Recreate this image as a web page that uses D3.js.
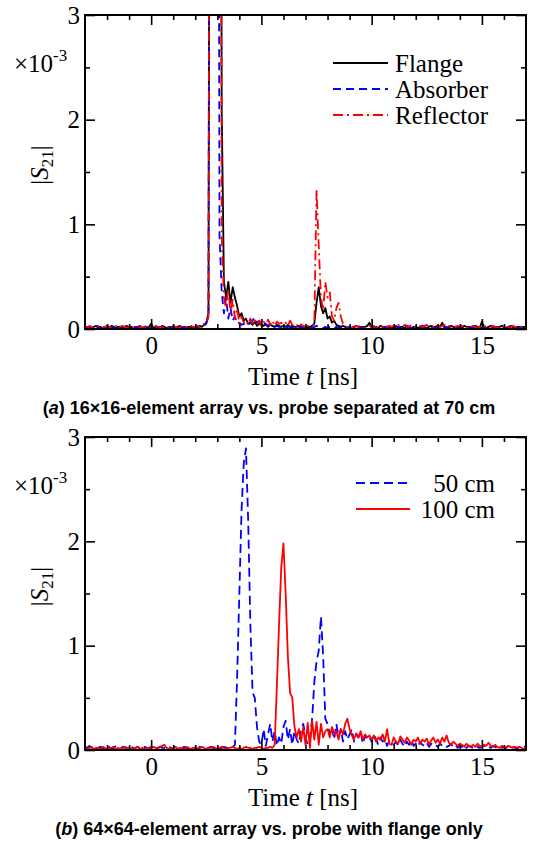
<!DOCTYPE html>
<html>
<head>
<meta charset="utf-8">
<script src="https://cdn.jsdelivr.net/npm/d3@7"></script>
<style>
  body { margin: 0; background: #fff; }
</style>
</head>
<body>
<script>
// sampled every 0.1 ns from -3 ns to 17 ns, |S21| in units of 1e-3
const flange = [
  0.02,0.01,0.02,0.01,0.02,0.03,0.01,0.02,0.01,0.02,
  0.02,0.01,0.03,0.02,0.01,0.02,0.02,0.01,0.02,0.03,
  0.01,0.02,0.01,0.02,0.02,0.03,0.01,0.02,0.01,0.02,
  0.05,0.01,0.02,0.02,0.01,0.03,0.02,0.01,0.02,0.01,
  0.02,0.01,0.02,0.03,0.01,0.02,0.01,0.02,0.02,0.01,
  0.02,0.02,0.03,0.02,0.04,0.06,0.15,12,12,12,
  12,12,2.1,0.45,0.3,0.45,0.25,0.4,0.3,0.22,
  0.12,0.15,0.08,0.1,0.05,0.06,0.04,0.07,0.03,0.05,
  0.04,0.03,0.05,0.02,0.04,0.03,0.02,0.04,0.03,0.02,
  0.03,0.02,0.04,0.02,0.03,0.02,0.02,0.03,0.02,0.01,
  0.02,0.01,0.02,0.03,0.05,0.25,0.4,0.22,0.15,0.2,
  0.1,0.12,0.06,0.08,0.04,0.03,0.02,0.03,0.02,0.01,
  0.02,0.01,0.02,0.03,0.02,0.01,0.02,0.02,0.03,0.06,
  0.02,0.01,0.02,0.01,0.03,0.02,0.01,0.02,0.02,0.01,
  0.02,0.03,0.01,0.02,0.02,0.01,0.03,0.02,0.01,0.02,
  0.02,0.01,0.02,0.03,0.02,0.01,0.02,0.03,0.02,0.02,
  0.03,0.02,0.06,0.02,0.01,0.02,0.03,0.02,0.01,0.02,
  0.02,0.01,0.03,0.02,0.02,0.01,0.02,0.03,0.02,0.01,
  0.07,0.02,0.01,0.02,0.03,0.02,0.01,0.02,0.02,0.03,
  0.02,0.01,0.02,0.03,0.02,0.01,0.02,0.02,0.01,0.02,
  0.02
];
const absorber = [
  0.01,0.02,0.01,0.01,0.02,0.01,0.02,0.01,0.01,0.02,
  0.01,0.02,0.02,0.01,0.01,0.02,0.01,0.02,0.01,0.01,
  0.02,0.01,0.01,0.02,0.01,0.02,0.01,0.01,0.02,0.01,
  0.02,0.01,0.02,0.01,0.01,0.02,0.01,0.02,0.01,0.02,
  0.01,0.02,0.01,0.01,0.02,0.01,0.02,0.01,0.02,0.01,
  0.01,0.02,0.02,0.03,0.03,0.05,0.12,12,12,12,
  12,0.9,0.35,0.15,0.3,0.1,0.2,0.08,0.12,0.05,
  0.06,0.04,0.05,0.03,0.04,0.06,0.08,0.11,0.06,0.08,
  0.05,0.07,0.04,0.03,0.05,0.03,0.02,0.03,0.02,0.02,
  0.02,0.01,0.02,0.02,0.01,0.02,0.01,0.02,0.01,0.01,
  0.01,0.02,0.01,0.01,0.02,0.03,0.02,0.02,0.01,0.02,
  0.01,0.02,0.01,0.01,0.02,0.01,0.01,0.02,0.01,0.01,
  0.02,0.01,0.01,0.02,0.01,0.02,0.01,0.01,0.02,0.01,
  0.01,0.02,0.01,0.01,0.02,0.01,0.02,0.01,0.01,0.02,
  0.01,0.01,0.02,0.01,0.02,0.01,0.01,0.02,0.01,0.01,
  0.02,0.01,0.01,0.02,0.01,0.01,0.02,0.01,0.02,0.01,
  0.01,0.02,0.01,0.01,0.02,0.01,0.01,0.02,0.01,0.01,
  0.02,0.01,0.02,0.01,0.01,0.02,0.01,0.01,0.02,0.01,
  0.01,0.02,0.01,0.01,0.02,0.01,0.02,0.01,0.01,0.02,
  0.01,0.01,0.02,0.01,0.01,0.02,0.01,0.01,0.02,0.01,
  0.01
];
const reflector = [
  0.02,0.01,0.03,0.02,0.01,0.02,0.03,0.02,0.01,0.02,
  0.03,0.02,0.01,0.02,0.03,0.01,0.02,0.03,0.02,0.01,
  0.02,0.03,0.01,0.02,0.02,0.03,0.01,0.02,0.03,0.02,
  0.02,0.01,0.03,0.02,0.02,0.01,0.03,0.02,0.01,0.02,
  0.03,0.02,0.01,0.02,0.03,0.02,0.02,0.01,0.03,0.02,
  0.02,0.03,0.02,0.03,0.05,0.06,0.12,12,12,12,
  12,12,0.9,0.3,0.2,0.38,0.15,0.28,0.1,0.2,
  0.05,0.12,0.06,0.08,0.04,0.1,0.05,0.09,0.04,0.08,
  0.03,0.07,0.05,0.09,0.04,0.08,0.03,0.07,0.05,0.06,
  0.04,0.06,0.03,0.08,0.04,0.05,0.03,0.06,0.04,0.03,
  0.02,0.03,0.02,0.03,0.05,1.33,0.8,0.3,0.18,0.45,
  0.3,0.35,0.12,0.08,0.2,0.25,0.12,0.05,0.03,0.02,
  0.03,0.02,0.01,0.03,0.02,0.03,0.02,0.01,0.02,0.03,
  0.02,0.03,0.01,0.02,0.03,0.02,0.04,0.02,0.03,0.02,
  0.03,0.02,0.04,0.03,0.02,0.04,0.03,0.02,0.04,0.03,
  0.02,0.04,0.03,0.02,0.03,0.04,0.02,0.03,0.02,0.04,
  0.03,0.02,0.03,0.04,0.02,0.03,0.02,0.03,0.02,0.03,
  0.02,0.03,0.02,0.01,0.03,0.02,0.03,0.02,0.01,0.02,
  0.03,0.02,0.03,0.02,0.02,0.03,0.02,0.01,0.03,0.02,
  0.02,0.03,0.02,0.02,0.03,0.02,0.02,0.03,0.02,0.04,
  0.03
];
const cm50 = [
  0.03,0.02,0.04,0.02,0.03,0.01,0.02,0.03,0.02,0.01,
  0.02,0.03,0.01,0.02,0.04,0.02,0.01,0.03,0.02,0.02,
  0.01,0.03,0.02,0.02,0.03,0.01,0.02,0.03,0.02,0.02,
  0.03,0.02,0.01,0.02,0.03,0.02,0.02,0.01,0.03,0.02,
  0.02,0.03,0.01,0.02,0.02,0.03,0.02,0.01,0.02,0.03,
  0.02,0.01,0.03,0.02,0.02,0.01,0.02,0.03,0.02,0.01,
  0.02,0.01,0.02,0.03,0.02,0.03,0.02,0.03,0.05,0.7,
  1.5,2.3,2.75,2.89,2.2,1.2,0.55,0.5,0.22,0.08,
  0.05,0.2,0.04,0.15,0.25,0.08,0.18,0.04,0.12,0.06,
  0.22,0.28,0.1,0.2,0.05,0.18,0.1,0.06,0.2,0.25,
  0.12,0.05,0.1,0.3,0.65,0.85,0.95,1.28,0.9,0.3,
  0.25,0.15,0.22,0.1,0.25,0.12,0.2,0.08,0.18,0.1,
  0.15,0.2,0.08,0.15,0.12,0.18,0.06,0.14,0.1,0.12,
  0.08,0.15,0.1,0.05,0.12,0.08,0.1,0.04,0.09,0.06,
  0.05,0.08,0.04,0.1,0.06,0.03,0.08,0.05,0.1,0.04,
  0.06,0.03,0.08,0.05,0.04,0.07,0.03,0.06,0.04,0.05,
  0.03,0.06,0.04,0.05,0.03,0.04,0.06,0.03,0.05,0.02,
  0.04,0.03,0.05,0.02,0.04,0.03,0.02,0.04,0.03,0.02,
  0.03,0.04,0.02,0.03,0.02,0.04,0.03,0.02,0.03,0.02,
  0.03,0.02,0.04,0.02,0.03,0.02,0.01,0.03,0.02,0.04,
  0.02
];
const cm100 = [
  0.02,0.01,0.02,0.03,0.01,0.02,0.02,0.01,0.03,0.02,
  0.01,0.02,0.02,0.03,0.01,0.02,0.01,0.02,0.03,0.02,
  0.02,0.01,0.02,0.02,0.03,0.01,0.02,0.01,0.02,0.02,
  0.02,0.03,0.02,0.01,0.03,0.04,0.05,0.02,0.01,0.02,
  0.02,0.03,0.01,0.02,0.02,0.01,0.03,0.02,0.01,0.02,
  0.02,0.01,0.02,0.03,0.02,0.01,0.02,0.02,0.03,0.02,
  0.01,0.02,0.03,0.02,0.01,0.02,0.02,0.03,0.02,0.01,
  0.02,0.01,0.02,0.03,0.02,0.02,0.01,0.02,0.02,0.03,
  0.02,0.01,0.02,0.02,0.03,0.02,0.05,0.6,1.2,1.75,
  1.98,1.5,0.9,0.55,0.5,0.22,0.12,0.2,0.08,0.22,
  0.05,0.26,0.02,0.28,0.1,0.27,0.05,0.25,0.12,0.18,
  0.2,0.12,0.22,0.15,0.18,0.1,0.2,0.15,0.25,0.3,
  0.2,0.14,0.1,0.16,0.12,0.18,0.1,0.15,0.12,0.14,
  0.1,0.14,0.08,0.12,0.1,0.15,0.08,0.2,0.06,0.05,
  0.12,0.08,0.06,0.13,0.1,0.07,0.12,0.09,0.05,0.1,
  0.08,0.12,0.06,0.1,0.08,0.11,0.05,0.09,0.12,0.07,
  0.1,0.06,0.12,0.08,0.14,0.07,0.05,0.08,0.06,0.04,
  0.06,0.05,0.03,0.06,0.04,0.03,0.05,0.03,0.06,0.04,
  0.03,0.05,0.04,0.07,0.04,0.03,0.05,0.03,0.02,0.04,
  0.03,0.02,0.04,0.03,0.02,0.03,0.02,0.03,0.02,0.01,
  0.02
];
const time = flange.map((_, i) => -3 + i * 0.1);

const xMajor = [0, 5, 10, 15];
const xMinor = [-2, -1, 1, 2, 3, 4, 6, 7, 8, 9, 11, 12, 13, 14, 16];
const yMajor = [0, 1, 2, 3];
const yMinor = [0.5, 1.5, 2.5];
const namesA = ['Flange', 'Absorber', 'Reflector'];
const namesB = ['50 cm', '100 cm'];
const captionA = '16×16-element array vs. probe separated at 70 cm';
const captionB = '64×64-element array vs. probe with flange only';

const SERIF = '"Liberation Serif", "Times New Roman", serif';
const SANS = '"Liberation Sans", Arial, sans-serif';

const W = 533, H = 842;
const svg = d3.select('body').append('svg').attr('width', W).attr('height', H);

const panels = [
  { id: 'a', top: 15, bottom: 329, caption: captionA, legendAnchor: 'start',
    series: [
      { name: namesA[0], values: flange, color: '#000', dash: null },
      { name: namesA[1], values: absorber, color: '#0000ff', dash: '8,5' },
      { name: namesA[2], values: reflector, color: '#ff0000', dash: '10,4,2,4' }
    ],
    legend: { x1: 333, x2: 388, tx: 395, y: 63, step: 26 } },
  { id: 'b', top: 437, bottom: 750, caption: captionB, legendAnchor: 'end',
    series: [
      { name: namesB[0], values: cm50, color: '#0000ff', dash: '9,5' },
      { name: namesB[1], values: cm100, color: '#ff0000', dash: null }
    ],
    legend: { x1: 356, x2: 410, tx: 495, y: 483, step: 26 } }
];

panels.forEach(p => {
  const x = d3.scaleLinear().domain([-3, 17]).range([85, 526]);
  const y = d3.scaleLinear().domain([0, 3]).range([p.bottom, p.top]);
  const g = svg.append('g');

  g.append('clipPath').attr('id', 'clip-' + p.id)
    .append('rect')
    .attr('x', x(-3)).attr('y', y(3))
    .attr('width', x(17) - x(-3)).attr('height', y(0) - y(3));

  const line = d3.line().x((d, i) => x(time[i])).y(d => y(d));
  const plot = g.append('g').attr('clip-path', `url(#clip-${p.id})`);
  p.series.forEach(s => {
    plot.append('path')
      .datum(s.values)
      .attr('d', line)
      .attr('fill', 'none')
      .attr('stroke', s.color)
      .attr('stroke-width', 1.8)
      .attr('stroke-dasharray', s.dash)
      .attr('stroke-linejoin', 'round');
  });

  // ticks point inward on all four sides
  const axes = [
    [d3.axisBottom(x), `translate(0,${p.bottom})`, xMajor, xMinor, true],
    [d3.axisTop(x), `translate(0,${p.top})`, xMajor, xMinor, false],
    [d3.axisLeft(y), `translate(${x(-3)},0)`, yMajor, yMinor, true],
    [d3.axisRight(y), `translate(${x(17)},0)`, yMajor, yMinor, false]
  ];
  axes.forEach(([ax, tr, major, minor, labels]) => {
    const isX = major === xMajor;
    const a = g.append('g').attr('transform', tr)
      .call(ax.tickValues(major).tickSize(-10)
        .tickPadding(isX ? 7 : 5)
        .tickFormat(labels ? d3.format('d') : ''));
    g.append('g').attr('transform', tr)
      .call(ax.tickValues(minor).tickSize(-5).tickFormat(''))
      .select('.domain').remove();
    a.select('.domain').remove();
  });
  g.selectAll('.tick line').attr('stroke', '#000').attr('stroke-width', 1.6);
  g.selectAll('.tick text').style('font-size', '25px').style('font-family', SERIF);

  g.append('rect')
    .attr('x', x(-3)).attr('y', y(3))
    .attr('width', x(17) - x(-3)).attr('height', y(0) - y(3))
    .attr('fill', 'none').attr('stroke', '#000').attr('stroke-width', 2);

  // y label |S21| and the scale factor
  const yl = g.append('text')
    .attr('transform', `translate(48,${(p.top + p.bottom) / 2 - 7}) rotate(-90)`)
    .attr('text-anchor', 'middle')
    .style('font-family', SERIF).style('font-size', '25px');
  yl.append('tspan').text('|');
  yl.append('tspan').attr('font-style', 'italic').text('S');
  yl.append('tspan').style('font-size', '17px').attr('dy', 5).text('21');
  yl.append('tspan').attr('dy', -5).text('|');

  const sf = g.append('text').attr('x', 14).attr('y', p.top + 57)
    .style('font-family', SERIF).style('font-size', '25px');
  sf.append('tspan').text('×10');
  sf.append('tspan').style('font-size', '17px').attr('dy', -11).text('-3');

  const xl = g.append('text')
    .attr('x', 303).attr('y', p.bottom + 56)
    .attr('text-anchor', 'middle')
    .style('font-family', SERIF).style('font-size', '25px');
  xl.append('tspan').text('Time ');
  xl.append('tspan').attr('font-style', 'italic').text('t');
  xl.append('tspan').text(' [ns]');

  const cap = g.append('text')
    .attr('x', 269).attr('y', p.bottom + 85)
    .attr('text-anchor', 'middle')
    .style('font-family', SANS).style('font-weight', 'bold').style('font-size', '18px');
  cap.append('tspan').text('(');
  cap.append('tspan').attr('font-style', 'italic').text(p.id);
  cap.append('tspan').text(') ' + p.caption);

  // legend
  const L = p.legend;
  p.series.forEach((s, i) => {
    const ly = L.y + i * L.step;
    g.append('line')
      .attr('x1', L.x1).attr('x2', L.x2).attr('y1', ly).attr('y2', ly)
      .attr('stroke', s.color).attr('stroke-width', 1.8)
      .attr('stroke-dasharray', s.dash);
    g.append('text')
      .attr('x', L.tx).attr('y', ly + 9)
      .attr('text-anchor', p.legendAnchor)
      .style('font-family', SERIF).style('font-size', '25px')
      .text(s.name);
  });
});
</script>
</body>
</html>
